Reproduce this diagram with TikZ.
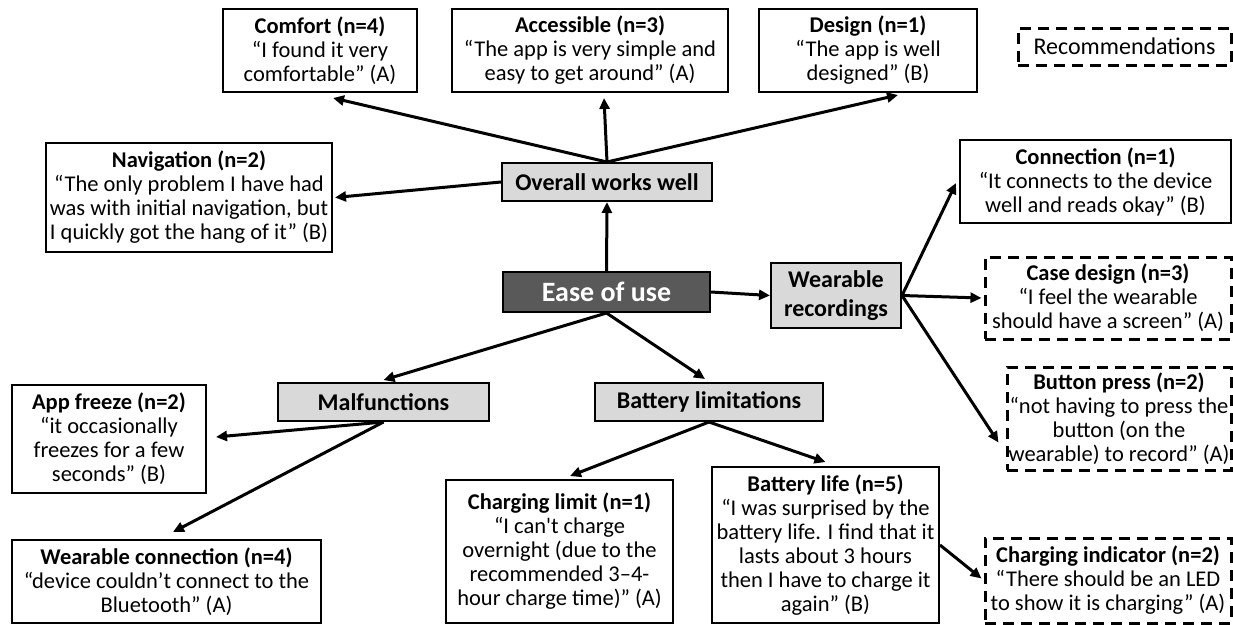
\documentclass[tikz,border=0pt]{standalone}
\usepackage{fontspec}
\setmainfont{Carlito}
\usetikzlibrary{arrows.meta,calc}
\definecolor{themegray}{HTML}{D9D9D9}
\definecolor{coregray}{HTML}{595959}
\begin{document}
\begin{tikzpicture}[x=1pt,y=-1pt,
  quote/.style={draw, line width=2pt, fill=white, align=center, inner sep=0pt, font=\fontsize{22.5}{24}\selectfont},
  rec/.style={quote, dash pattern=on 11pt off 7pt, line width=3pt},
  theme/.style={draw, line width=2pt, fill=themegray, align=center, inner sep=0pt, font=\fontsize{24}{29}\selectfont\bfseries},
  core/.style={draw, line width=2pt, fill=coregray, text=white, inner sep=0pt, font=\fontsize{28}{30}\selectfont\bfseries},
  link/.style={line width=3pt, -{Triangle[length=11pt,width=10pt]}}]
\useasboundingbox (0,0) rectangle (1233,624);
% core and themes
\node[core, minimum width=207pt, minimum height=40pt] (ease) at (606.5,292) {Ease of use};
\node[theme, minimum width=210pt, minimum height=38pt] (overall) at (607,182) {Overall works well};
\node[theme, minimum width=130pt, minimum height=65pt] (wrec) at (836,295.5) {Wearable\\recordings};
\node[theme, minimum width=211pt, minimum height=38pt] (malf) at (383.5,402) {Malfunctions};
\node[theme, minimum width=228pt, minimum height=38pt] (battlim) at (709,402) {Battery limitations};
% overall works well
\node[quote, minimum width=194pt, minimum height=83pt] (comfort) at (320,50.5) {\textbf{Comfort (n=4)}\\“I found it very\\comfortable” (A)};
\node[quote, minimum width=276pt, minimum height=83pt] (access) at (590,50.5) {\textbf{Accessible (n=3)}\\“The app is very simple and\\easy to get around” (A)};
\node[quote, minimum width=218pt, minimum height=83pt] (design) at (868,50.5) {\textbf{Design (n=1)}\\“The app is well\\designed” (B)};
\node[quote, minimum width=286pt, minimum height=109pt] (navig) at (189,197.5) {\textbf{Navigation (n=2)}\\“The only problem I have had\\was with initial navigation, but\\I quickly got the hang of it” (B)};
% wearable recordings
\node[quote, minimum width=271pt, minimum height=83pt] (connect) at (1095.5,181.5) {\textbf{Connection (n=1)}\\“It connects to the device\\well and reads okay” (B)};
\node[rec, minimum width=246pt, minimum height=82pt] (cased) at (1108,298) {\textbf{Case design (n=3)}\\“I feel the wearable\\should have a screen” (A)};
\node[rec, minimum width=224pt, minimum height=103pt] (button) at (1119,418.5) {\textbf{Button press (n=2)}\\“not having to press the\\button (on the\\wearable) to record” (A)};
% malfunctions
\node[quote, minimum width=194pt, minimum height=108pt] (appfr) at (109,439) {\textbf{App freeze (n=2)}\\“it occasionally\\freezes for a few\\seconds” (B)};
\node[quote, minimum width=309pt, minimum height=83pt] (wconn) at (166.5,581.5) {\textbf{Wearable connection (n=4)}\\“device couldn’t connect to the\\Bluetooth” (A)};
% battery limitations
\node[quote, minimum width=227pt, minimum height=143pt] (chlim) at (559.5,551.5) {\textbf{Charging limit (n=1)}\\“I can\textquotesingle t charge\\overnight (due to the\\recommended 3–4-\\hour charge time)” (A)};
\node[quote, minimum width=227pt, minimum height=156pt] (batlife) at (825.5,545) {\textbf{Battery life (n=5)}\\“I was surprised by the\\battery life. I find that it\\lasts about 3 hours\\then I have to charge it\\again” (B)};
\node[rec, minimum width=246pt, minimum height=85pt] (chind) at (1108,580.5) {\textbf{Charging indicator (n=2)}\\“There should be an LED\\to show it is charging” (A)};
% legend
\node[rec, minimum width=213pt, minimum height=37pt, font=\fontsize{24}{26}\selectfont] (recs) at (1124.5,46.5) {Recommendations};
% links
\draw[link] (ease.north) -- (overall.south);
\draw[link] (overall.north) -- ($(comfort.south)+(13,5)$);
\draw[link] (overall.north) -- ($(access.south)+(14,5)$);
\draw[link] (overall.north) -- ($(design.south)+(30,2)$);
\draw[link] (overall.west) -- ($(navig.east)+(2,0)$);
\draw[link] (ease.east) -- (wrec.west);
\draw[link] (wrec.east) -- ($(connect.west)+(-3,1.5)$);
\draw[link] (wrec.east) -- ($(cased.west)+(-2,0)$);
\draw[link] (wrec.east) -- ($(button.west)+(-7,24)$);
\draw[link] (ease.south) -- ($(malf.north)+(0,-2)$);
\draw[link] (ease.south) -- ($(battlim.north)+(-4,-3)$);
\draw[link] (malf.south) -- ($(appfr.east)+(9,-2)$);
\draw[link] (malf.south) -- ($(wconn.north)+(6.5,-7)$);
\draw[link] (battlim.south) -- ($(chlim.north)+(10.5,-3)$);
\draw[link] (battlim.south) -- ($(batlife.north)+(0,-4)$);
\draw[link] (batlife.east) -- ($(chind.west)+(-2,-2)$);
\end{tikzpicture}
\end{document}
